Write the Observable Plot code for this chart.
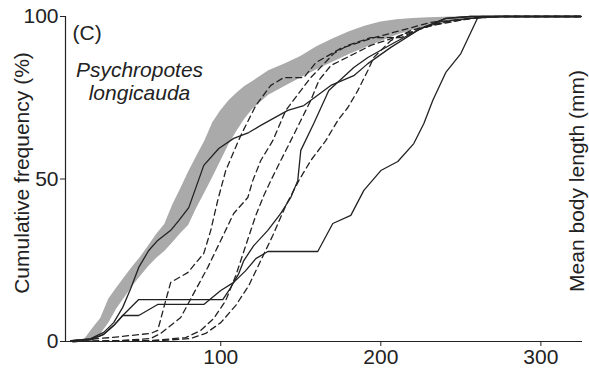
<!DOCTYPE html>
<html><head><meta charset="utf-8">
<script src="https://cdn.jsdelivr.net/npm/d3@7"></script>
<script src="https://cdn.jsdelivr.net/npm/@observablehq/plot@0.6"></script>
<style>body{margin:0;background:#fff} svg{font-family:Arial,"Liberation Sans",sans-serif}</style>
</head><body><div id="chart"></div>
<script>
// Gray envelope (common x, lower and upper cumulative %)
const bandX    = [14,20,25,30,35,40,45,50,55,60,65,70,75,80,85,90,95,100,105,110,115,120,130,140,150,160,170,180,190,200,210,220,230,240,250,262];
const bandLow  = [0,0,2.2,5.6,10,13.5,17,20.1,23.1,25.6,27.7,30.4,33.2,35.8,41,45.7,50.5,55.5,60.5,64.6,68.4,71.5,75.8,78.5,81.1,83.6,85.9,88.2,90.3,92.3,94.2,95.8,96.6,97.8,99,99.8];
const bandHigh = [0,4,7.1,13,16.5,19.8,23,26,29.5,33,36,42,47,52.2,57,61.6,67.3,71,74,76.4,78.5,80,83.3,85.4,87.7,90.7,93.1,95.2,97,98.3,99,99.4,99.6,99.8,99.9,100];

// Solid series
const aX = [7.5,18.75,26.9,33.1,38.75,43.75,48.75,55,60.6,68.75,73.75,80,89.4,98.75,108.1,117.5,125,141.9,151.9,168.75,183.1,191.9,206.25,225,240.6,256,325];
const aY = [0.3,0.9,2.8,5.8,10.5,16.3,22.8,28,31.1,34.2,37.2,41.2,54.2,59.4,62.5,64.3,66.5,71.1,72.6,78.8,81.8,85.5,90.5,96.3,99.4,100,100];
const cX = [6.25,18.75,26.9,33.1,38.75,48.75,60.6,89.4,100,108.1,115.6,121.9,129.4,160.6,170,181.25,189.4,200,210.6,220.6,226.9,232.5,240.6,250,260.6,262.5,325];
const cY = [0.3,0.6,2.2,4.9,8,8,11.4,11.4,15.7,18.2,21.8,25.5,27.7,27.7,36.3,38.8,46.5,52.6,55.4,60.9,67.1,74.2,82.8,88.6,99.7,100,100];
const dX = [6.25,18.75,26.9,33.1,38.75,48.75,101.25,106.25,111.25,114.4,120.6,129.4,137.5,143.75,148.1,150,158.1,167.5,183.1,191.9,207.5,225,240.6,256.25,325];
const dY = [0.3,0.6,2.2,4.9,8,12.9,12.9,16.6,20.9,24.9,29.5,34.2,39.4,44.3,49.5,58.8,67.1,77.2,84.3,87.4,91.7,96.3,99.4,100,100];

// Dashed series
const e1X = [7.5,31.25,56.25,60.6,65.6,68.75,79.4,89.4,93.75,98.1,103.1,112.5,121.9,131.25,139.4,151.9,159.4,175,193.75,212.5,231.25,256.25,275,325];
const e1Y = [0.3,1.2,2.5,3.4,12.6,18.2,21.2,27.1,34.2,43.4,52.6,63.4,72.6,78.8,81.2,81.2,85.8,90.2,93.2,95.7,98.2,99.4,100,100];
const e2X = [7.5,37.5,56.25,62.5,68.75,75,83.1,91.9,100,108.1,116.9,120,125,132.5,140.6,150,156.25,170.6,179.4,193.75,212.5,225,243.75,268.75,325];
const e2Y = [0,0.3,0.9,2.5,4.9,7.4,14.8,22.8,31.1,39.4,44.3,49.5,55.7,61.8,71.1,77.2,81.2,88.6,91.1,93.5,93.5,96.3,98.8,100,100];
const e3X = [7.5,56.25,78.1,87.5,95.6,103.1,109.4,115.6,121.9,126.9,131.25,137.5,143.75,150,156.25,161.25,168.75,181.25,193.75,212.5,231.25,256.25,275,325];
const e3Y = [0,0.3,1.2,3.4,7.1,12.6,20.3,29.5,38.8,44.9,49.5,55.7,61.8,68,74.2,80.3,84.9,88,91.1,94.2,97.2,99.4,100,100];
const e4X = [7.5,62.5,81.25,90.6,100,109.4,117.5,125,132.5,140.6,148.75,156.25,165.6,173.1,179.4,185.6,191.9,195.6,206.25,218.75,237.5,262.5,275,325];
const e4Y = [0,0.3,0.9,2.5,5.8,11.1,17.2,24.9,32.6,41.8,49.5,55.7,61.8,68,72,77.2,83.4,87.4,92.6,95.7,98.2,99.7,100,100];

const xTicks = [100,200,300];
const yTicks = [0,50,100];
const yLabel = "Cumulative frequency (%)";
const xLabel = "Mean body length (mm)";
const panelTag = "(C)";
const species = "Psychropotes\nlongicauda";

const rows = (name, xs, ys) => xs.map((x, i) => ({series: name, x, y: ys[i]}));
const band = bandX.map((x, i) => ({x, lo: bandLow[i], hi: bandHigh[i]}));
const solid = [...rows("A", aX, aY), ...rows("C", cX, cY), ...rows("D", dX, dY)];
const dashed = [...rows("E1", e1X, e1Y), ...rows("E2", e2X, e2Y), ...rows("E3", e3X, e3Y), ...rows("E4", e4X, e4Y)];

const FS = 21;
const chart = Plot.plot({
  width: 589, height: 369,
  marginLeft: 65, marginRight: 7, marginTop: 16, marginBottom: 28,
  style: {fontFamily: "Arial, 'Liberation Sans', sans-serif", fontSize: FS + "px", color: "#222"},
  x: {domain: [3, 326]},
  y: {domain: [0, 100]},
  marks: [
    Plot.areaY(band, {x: "x", y1: "lo", y2: "hi", fill: "#aaaaaa", curve: "linear"}),
    Plot.line(solid, {x: "x", y: "y", z: "series", stroke: "#222", strokeWidth: 1.3}),
    Plot.line(dashed, {x: "x", y: "y", z: "series", stroke: "#222", strokeWidth: 1.3, strokeDasharray: "6,4"}),
    Plot.ruleX([3], {stroke: "#222", strokeWidth: 1.2}),
    Plot.ruleY([0], {stroke: "#222", strokeWidth: 1.2}),
    Plot.axisY({ticks: yTicks, tickSize: 5, tickPadding: 2, fontSize: FS, label: null, stroke: "#222"}),
    Plot.axisX({ticks: xTicks, tickSize: 5, tickPadding: 3, fontSize: FS, label: null, stroke: "#222"}),
    Plot.text([yLabel], {text: d => d, frameAnchor: "left", rotate: -90, dx: -43, dy: -6, textAnchor: "middle", lineAnchor: "middle", fontSize: FS, fill: "#222"}),
    Plot.text([xLabel], {text: d => d, frameAnchor: "right", rotate: -90, dx: -5, dy: 2, textAnchor: "middle", lineAnchor: "middle", fontSize: FS, fill: "#222"}),
    Plot.text([panelTag], {text: d => d, frameAnchor: "top-left", dx: 7, dy: 9, textAnchor: "start", lineAnchor: "top", fontSize: FS, fill: "#222"}),
    Plot.text([species], {text: d => d, frameAnchor: "top-left", dx: 74, dy: 44, textAnchor: "middle", lineAnchor: "top", lineHeight: 1.1, fontSize: FS, fontStyle: "italic", fill: "#222"})
  ]
});
document.getElementById("chart").appendChild(chart);
</script>
</body></html>
